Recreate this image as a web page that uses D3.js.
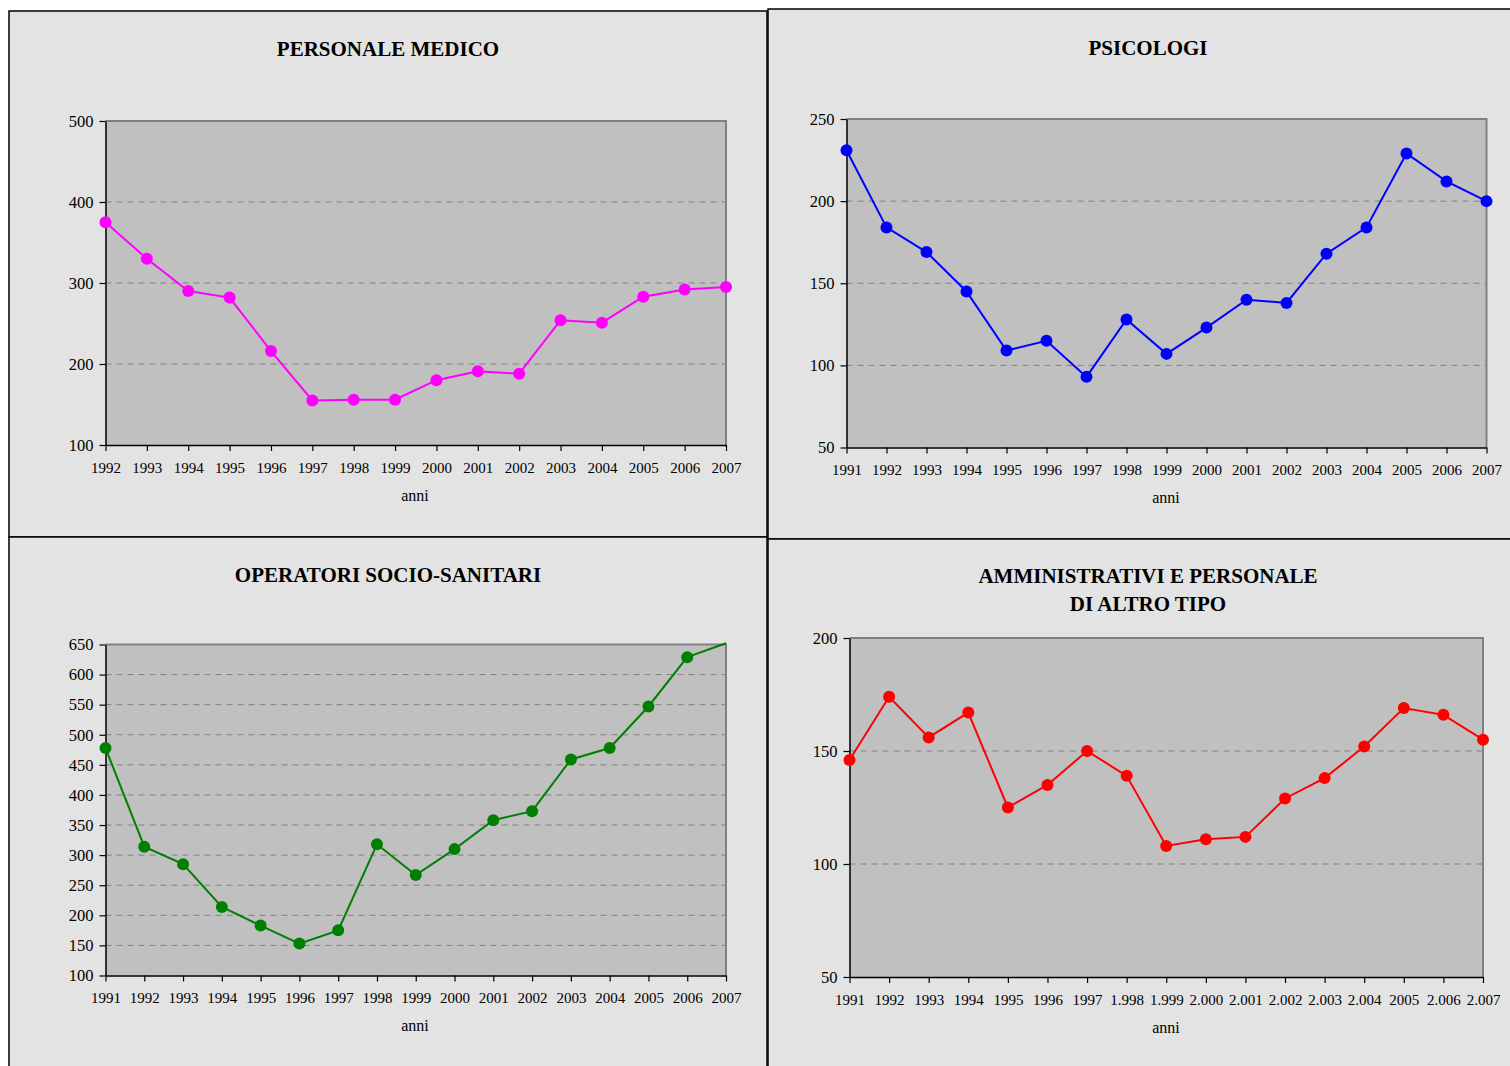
<!DOCTYPE html>
<html>
<head>
<meta charset="utf-8">
<script src="https://cdn.jsdelivr.net/npm/d3@7"></script>
<style>
  html, body { margin: 0; padding: 0; background: #ffffff; }
  svg { display: block; }
  text { font-family: "Liberation Serif", "Times New Roman", serif; fill: #000; }
</style>
</head>
<body>
<svg id="chart" width="1510" height="1066"></svg>
<script>
// ---------- DATA ----------
const medicoYears = ["1992","1993","1994","1995","1996","1997","1998","1999","2000","2001","2002","2003","2004","2005","2006","2007"];
const medicoValues = [375, 330, 290, 282, 216, 155, 156, 156, 180, 191, 188, 254, 251, 283, 292, 295];
const medicoTicks = [100, 200, 300, 400, 500];

const psicologiYears = ["1991","1992","1993","1994","1995","1996","1997","1998","1999","2000","2001","2002","2003","2004","2005","2006","2007"];
const psicologiValues = [231, 184, 169, 145, 109, 115, 93, 128, 107, 123, 140, 138, 168, 184, 229, 212, 200];
const psicologiTicks = [50, 100, 150, 200, 250];

const ossYears = ["1991","1992","1993","1994","1995","1996","1997","1998","1999","2000","2001","2002","2003","2004","2005","2006","2007"];
const ossValues = [478, 314, 285, 214, 183, 153, 175, 318, 267, 310, 358, 373, 459, 478, 547, 629, 652];
const ossTicks = [100, 150, 200, 250, 300, 350, 400, 450, 500, 550, 600, 650];

const ammYears = ["1991","1992","1993","1994","1995","1996","1997","1.998","1.999","2.000","2.001","2.002","2.003","2.004","2005","2.006","2.007"];
const ammValues = [146, 174, 156, 167, 125, 135, 150, 139, 108, 111, 112, 129, 138, 152, 169, 166, 155];
const ammTicks = [50, 100, 150, 200];

const titles = [["PERSONALE MEDICO"], ["PSICOLOGI"], ["OPERATORI SOCIO-SANITARI"], ["AMMINISTRATIVI E PERSONALE", "DI ALTRO TIPO"]];
const axisLabel = "anni";
const seriesColors = ["#ff00ff", "#0000ff", "#008000", "#ff0000"];

// ---------- LAYOUT ----------
const panels = [
  { box: [9, 11, 767, 537], plot: [105.5, 121, 726, 445], titleY: [56], titleX: 388, xLabY: 473, anniY: 501, anniX: 415,
    cats: medicoYears, vals: medicoValues, ticks: medicoTicks, title: titles[0], color: seriesColors[0] },
  { box: [768, 9, 1512, 539], plot: [846.5, 119, 1486.5, 447.5], titleY: [54.5], titleX: 1148, xLabY: 475, anniY: 503, anniX: 1166,
    cats: psicologiYears, vals: psicologiValues, ticks: psicologiTicks, title: titles[1], color: seriesColors[1] },
  { box: [9, 537, 767, 1070], plot: [105.5, 644.5, 726, 975.5], titleY: [582], titleX: 388, xLabY: 1002.5, anniY: 1031, anniX: 415,
    cats: ossYears, vals: ossValues, ticks: ossTicks, title: titles[2], color: seriesColors[2] },
  { box: [768, 539, 1512, 1070], plot: [849.5, 638, 1483, 977], titleY: [583, 611], titleX: 1148, xLabY: 1005, anniY: 1032.5, anniX: 1166,
    cats: ammYears, vals: ammValues, ticks: ammTicks, title: titles[3], color: seriesColors[3] }
];

const svg = d3.select("#chart");

panels.forEach(p => {
  const [bx0, by0, bx1, by1] = p.box;
  const [px0, py0, px1, py1] = p.plot;
  const g = svg.append("g");

  // panel background & border
  g.append("rect")
    .attr("x", bx0).attr("y", by0)
    .attr("width", bx1 - bx0).attr("height", by1 - by0)
    .attr("fill", "#e3e3e3")
    .attr("stroke", "#000").attr("stroke-width", 1.5);

  // title
  p.title.forEach((t, i) => {
    g.append("text")
      .attr("x", p.titleX).attr("y", p.titleY[i])
      .attr("text-anchor", "middle")
      .attr("font-size", 21).attr("font-weight", "bold")
      .text(t);
  });

  const x = d3.scalePoint().domain(p.cats).range([px0, px1]).padding(0);
  const yDom = d3.extent(p.ticks);
  const y = d3.scaleLinear().domain(yDom).range([py1, py0]);

  // plot area
  g.append("rect")
    .attr("x", px0).attr("y", py0)
    .attr("width", px1 - px0).attr("height", py1 - py0)
    .attr("fill", "#c0c0c0");

  // gridlines
  g.selectAll(".grid").data(p.ticks.filter(t => t !== yDom[0] && t !== yDom[1]))
    .enter().append("line")
    .attr("x1", px0).attr("x2", px1)
    .attr("y1", d => y(d)).attr("y2", d => y(d))
    .attr("stroke", "#808080").attr("stroke-width", 1)
    .attr("stroke-dasharray", "6,5");

  // top/right plot border
  g.append("path")
    .attr("d", `M${px0},${py0}H${px1}V${py1}`)
    .attr("fill", "none").attr("stroke", "#808080").attr("stroke-width", 2);

  // y axis
  const yAxis = d3.axisLeft(y).tickValues(p.ticks).tickSize(6).tickSizeOuter(0).tickPadding(6).tickFormat(d3.format("d"));
  const ya = g.append("g").attr("transform", `translate(${px0},0)`).call(yAxis);
  ya.select(".domain").attr("stroke", "#000").attr("stroke-width", 1.5);
  ya.selectAll(".tick line").attr("stroke", "#000").attr("stroke-width", 1.2);
  ya.selectAll(".tick text").attr("font-size", 16.5).attr("font-family", "Liberation Serif, serif").attr("fill", "#000");

  // x axis
  const xAxis = d3.axisBottom(x).tickSize(6).tickSizeOuter(0).tickPadding(8);
  const xa = g.append("g").attr("transform", `translate(0,${py1})`).call(xAxis);
  xa.select(".domain").attr("stroke", "#000").attr("stroke-width", 1.5);
  xa.selectAll(".tick line").attr("stroke", "#000").attr("stroke-width", 1.2);
  xa.selectAll(".tick text")
    .attr("font-size", 15).attr("font-family", "Liberation Serif, serif").attr("fill", "#000")
    .attr("dy", null).attr("y", p.xLabY - py1);

  // axis title
  g.append("text")
    .attr("x", p.anniX).attr("y", p.anniY)
    .attr("text-anchor", "middle").attr("font-size", 16)
    .text(axisLabel);

  // series line
  const pts = p.cats.map((c, i) => ({ c, v: p.vals[i] }));
  const line = d3.line().x(d => x(d.c)).y(d => Math.max(py0 - 1.5, y(d.v)));
  g.append("path").datum(pts)
    .attr("d", line)
    .attr("fill", "none").attr("stroke", p.color).attr("stroke-width", 2);

  // markers (hidden outside the axis range)
  g.selectAll(".mk").data(pts.filter(d => d.v >= yDom[0] && d.v <= yDom[1]))
    .enter().append("circle")
    .attr("cx", d => x(d.c)).attr("cy", d => y(d.v))
    .attr("r", 6).attr("fill", p.color);
});
</script>
</body>
</html>
